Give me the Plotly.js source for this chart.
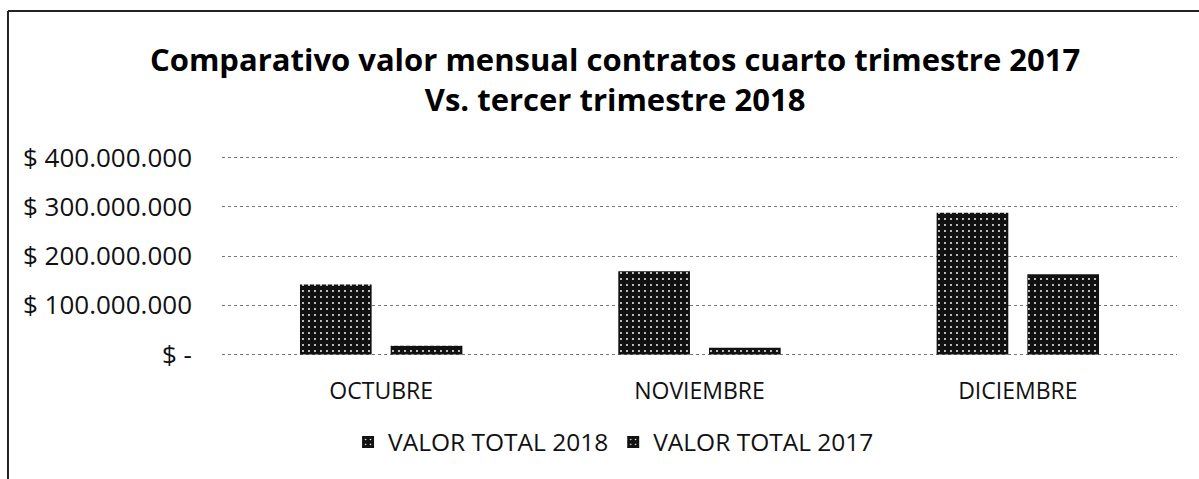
<!DOCTYPE html>
<html>
<head>
<meta charset="utf-8">
<script src="https://cdn.plot.ly/plotly-3.0.1.min.js"></script>
<style>
html,body{margin:0;padding:0;background:#fff;}
#chart{width:1199px;height:479px;}
</style>
</head>
<body>
<div id="chart"></div>
<script>
// Data
const months = ['OCTUBRE', 'NOVIEMBRE', 'DICIEMBRE'];
const valor2018 = [142000000, 169000000, 288000000];
const valor2017 = [18000000, 14000000, 163000000];
const tickValues = [0, 100000000, 200000000, 300000000, 400000000];
const tickLabels = ['$ -', '$ 100.000.000', '$ 200.000.000', '$ 300.000.000', '$ 400.000.000'];
const seriesNames = ['VALOR TOTAL 2018', 'VALOR TOTAL 2017'];

const FONT = 'Open Sans, Liberation Sans, sans-serif';
const pattern = {shape: '.', fgcolor: '#ffffff', bgcolor: '#111111', size: 6, solidity: 0.08, fillmode: 'replace'};

const traces = [
  {type: 'bar', name: seriesNames[0], x: months, y: valor2018,
   marker: {color: '#111111', pattern: pattern, line: {width: 0}}, hoverinfo: 'x+y'},
  {type: 'bar', name: seriesNames[1], x: months, y: valor2017,
   marker: {color: '#111111', pattern: pattern, line: {width: 0}}, hoverinfo: 'x+y'}
];

const layout = {
  width: 1199, height: 479,
  paper_bgcolor: '#ffffff', plot_bgcolor: '#ffffff',
  margin: {l: 222, r: 22, t: 156, b: 123},
  font: {family: FONT, color: '#111111'},
  title: {
    text: '<b>Comparativo valor mensual contratos cuarto trimestre 2017<br>Vs. tercer trimestre 2018</b>',
    font: {family: FONT, size: 31, color: '#000000'},
    x: 0.513, xref: 'container', xanchor: 'center',
    y: 1 - 71 / 479, yref: 'container', yanchor: 'top'
  },
  barmode: 'group', bargap: 0.43, bargroupgap: 0.21,
  xaxis: {
    type: 'category', showgrid: false, showline: false, zeroline: false,
    ticks: '', tickfont: {family: FONT, size: 23, color: '#111111'},
    ticklabelstandoff: 19
  },
  yaxis: {
    range: [-3000000, 403000000], tickvals: tickValues, ticktext: tickLabels,
    showgrid: true, gridcolor: '#777777', gridwidth: 1, griddash: 'dot',
    zeroline: false, showline: false, ticks: '',
    tickfont: {family: FONT, size: 26, color: '#111111'},
    ticklabelstandoff: 29
  },
  showlegend: true,
  legend: {
    orientation: 'h', x: 0.41, xanchor: 'center', y: -0.43, yanchor: 'middle',
    font: {family: FONT, size: 24.5, color: '#111111'},
    itemwidth: 30, tracegroupgap: 0, traceorder: 'normal'
  },
  shapes: [
    {type: 'line', xref: 'paper', yref: 'paper', x0: -0.2241, x1: 1.03, y0: 1.725, y1: 1.725,
     line: {color: '#222222', width: 2}},
    {type: 'line', xref: 'paper', yref: 'paper', x0: -0.2241, x1: -0.2241, y0: 1.725, y1: -0.62,
     line: {color: '#222222', width: 2}}
  ]
};

Plotly.newPlot('chart', traces, layout, {displayModeBar: false, staticPlot: true});
</script>
</body>
</html>
